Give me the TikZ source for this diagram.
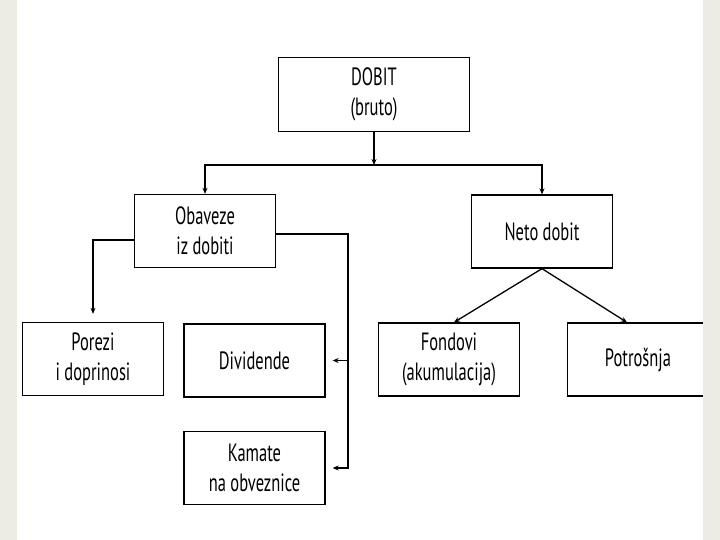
\documentclass[tikz,border=0pt]{standalone}
\usepackage{fontspec}
\setmainfont{PT Sans}[FakeStretch=0.66]
\usepackage{xcolor}
\definecolor{pageBeige}{HTML}{EDECE3}
\usepackage{tikz}
\usetikzlibrary{arrows.meta}

\begin{document}
\begin{tikzpicture}[x=1pt, y=-1pt, >={Stealth[length=6pt, width=5pt]},
  box/.style={draw, line width=1.3pt, minimum width=141pt, minimum height=73pt,
    inner sep=0pt, align=center, font=\fontsize{25}{30}\selectfont},
  link/.style={line width=1.3pt}]
  \fill[white] (0,0) rectangle (720,540);
  % ------- top -------
  \node[box, minimum width=191pt, minimum height=74pt] (dobit) at (374,94.5) {DOBIT\\(bruto)};
  \coordinate (split) at (374,165);
  % ------- second row -------
  \node[box] (obaveze) at (205,231) {Obaveze\\iz dobiti};
  \node[box] (neto) at (542,231.5) {Neto dobit};
  % ------- third row -------
  \node[box] (porezi) at (93,359) {Porezi\\i doprinosi};
  \node[box] (dividende) at (254.5,360.5) {Dividende};
  \node[box] (kamate) at (254.5,468) {Kamate\\na obveznice};
  \node[box] (fondovi) at (449,359.5) {Fondovi\\(akumulacija)};
  \node[box] (potrosnja) at (638,359.5) {Potrošnja};
  \coordinate (bus) at (348,234);
  % ------- connectors -------
  \draw[link, ->] (dobit.south) -- (split);
  \draw[link, ->] (split) -| (obaveze.north);
  \draw[link, ->] (split) -| (neto.north);
  \draw[link, ->, shorten >=8pt] ([yshift=-9pt]obaveze.west) -| (porezi.north);
  \draw[link, ->, shorten >=7pt] (obaveze.east |- bus) -| (bus |- kamate.east) -- (kamate.east);
  \draw[link, ->, shorten >=7pt] (bus |- dividende.east) -- (dividende.east);
  \draw[link, ->] (neto.south) -- ([xshift=5pt]fondovi.north);
  \draw[link, ->] (neto.south) -- ([xshift=-11pt]potrosnja.north);
  % page edges
  \fill[pageBeige] (0,0) rectangle (17,540);
  \fill[pageBeige] (702.5,0) rectangle (720,540);
\end{tikzpicture}
\end{document}
